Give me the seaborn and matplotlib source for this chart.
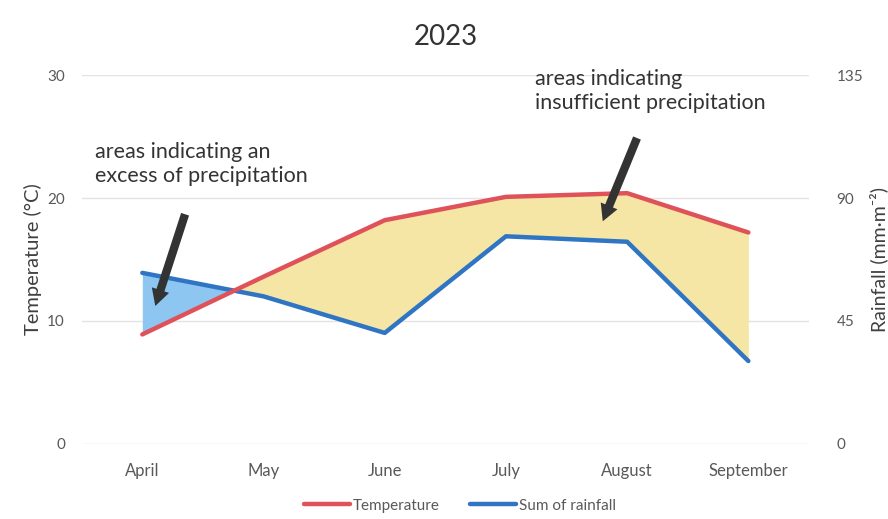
import numpy as np
import pandas as pd
import matplotlib
matplotlib.use("Agg")
import matplotlib.pyplot as plt
import seaborn as sns

# Data
months = ["April", "May", "June", "July", "August", "September"]
temperature = [8.9, 13.6, 18.2, 20.1, 20.4, 17.2]      # °C, left axis
rainfall = [62.6, 54.0, 40.6, 76.0, 74.0, 30.3]         # mm·m⁻², right axis
temp_ticks = [0, 10, 20, 30]
rain_ticks = [0, 45, 90, 135]

sns.set_style("white")
plt.rcParams["font.family"] = ["Lato", "DejaVu Sans"]

df = pd.DataFrame({"pos": np.arange(len(months)), "month": months,
                   "temp": temperature, "rain": rainfall})
# rainfall axis spans 0-135 while temperature spans 0-30
ratio = rain_ticks[-1] / temp_ticks[-1]
df["temp_on_rain"] = df["temp"] * ratio

fig = plt.figure(figsize=(8.88, 5.19), dpi=100)
ax = fig.add_axes([0.092, 0.145, 0.819, 0.71])
ax2 = ax.twinx()
ax.set_zorder(ax2.get_zorder() + 1)
ax.patch.set_visible(False)

red = "#e0525a"
blue = "#2f75c4"
grey = "#595959"

# filled areas between the two curves (drawn on the rainfall axis, behind)
ax2.fill_between(df["pos"], df["temp_on_rain"], df["rain"],
                 where=df["rain"] >= df["temp_on_rain"], interpolate=True,
                 color="#8cc6f1", lw=0, zorder=1)
ax2.fill_between(df["pos"], df["temp_on_rain"], df["rain"],
                 where=df["rain"] <= df["temp_on_rain"], interpolate=True,
                 color="#f6e6a6", lw=0, zorder=1)

sns.lineplot(data=df, x="pos", y="rain", ax=ax2, color=blue, lw=3.2,
             zorder=3, label="Sum of rainfall", legend=False)
sns.lineplot(data=df, x="pos", y="temp", ax=ax, color=red, lw=3.2,
             zorder=3, label="Temperature", legend=False)

ax.set_xlim(-0.5, len(months) - 0.5)
ax.set_ylim(temp_ticks[0], temp_ticks[-1])
ax2.set_ylim(rain_ticks[0], rain_ticks[-1])
ax.set_yticks(temp_ticks)
ax2.set_yticks(rain_ticks)
ax.set_xticks(df["pos"])
ax.set_xticklabels(months)
ax2.grid(axis="y", color="#e3e3e3", lw=1, zorder=0)
ax2.set_axisbelow(True)

for a in (ax, ax2):
    for s in a.spines.values():
        s.set_visible(False)
    a.tick_params(length=0, labelsize=11, colors=grey)
ax.tick_params(axis="y", pad=12)
ax2.tick_params(axis="y", pad=20)
ax.tick_params(axis="x", pad=14, labelsize=12)

ax.set_xlabel("")
ax.set_ylabel("Temperature (°C)", fontsize=14.5, color="#404040", labelpad=4)
ax2.set_ylabel("Rainfall (mm·m⁻²)", fontsize=14, color="#404040", labelpad=4)
ax.set_title("2023", fontsize=20, color="#333333", pad=22)

# annotations
ax.text(-0.39, 24.6, "areas indicating an\nexcess of precipitation",
        fontsize=15.5, color="#333333", va="top", ha="left", linespacing=1.25)
ax.text(3.24, 30.5, "areas indicating\ninsufficient precipitation",
        fontsize=15.5, color="#333333", va="top", ha="left", linespacing=1.25)
arrow = dict(arrowstyle="simple,head_length=1.2,head_width=1.3,tail_width=0.6",
             color="#333333", lw=0)
ax.annotate("", xy=(0.1, 11.0), xytext=(0.36, 18.9), arrowprops=arrow, zorder=5)
ax.annotate("", xy=(3.79, 17.9), xytext=(4.09, 25.1), arrowprops=arrow, zorder=5)

handles = ax.get_lines()[:1] + ax2.get_lines()[:1]
fig.legend(handles, ["Temperature", "Sum of rainfall"], loc="center",
           bbox_to_anchor=(0.518, 0.026), ncol=2, frameon=False, fontsize=11,
           handlelength=3.0, columnspacing=2.0, handletextpad=0.2,
           labelcolor=grey)

fig.savefig("out.png", dpi=100)
